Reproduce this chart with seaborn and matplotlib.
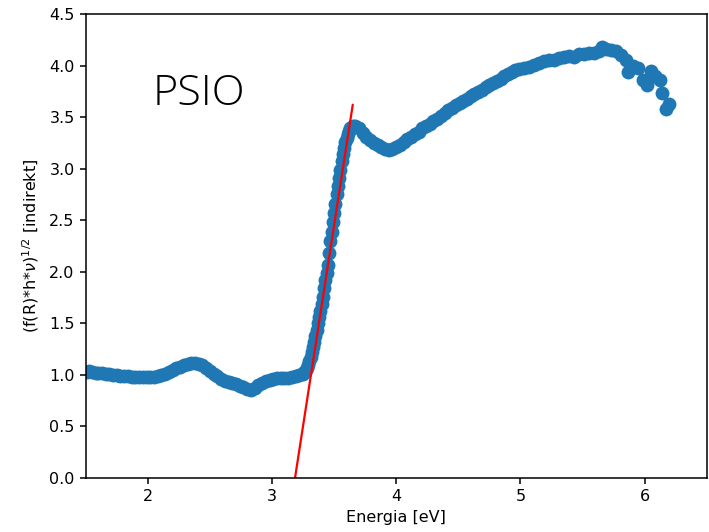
import matplotlib
matplotlib.use("Agg")
import matplotlib.pyplot as plt
import pandas as pd
import seaborn as sns

# Tauc plot data
energy = [
    1.51, 1.53, 1.55, 1.58, 1.60, 1.63, 1.66, 1.69, 1.72, 1.75, 1.78, 1.81,
    1.84, 1.87, 1.90, 1.93, 1.96, 1.99, 2.02, 2.05, 2.08, 2.11, 2.14, 2.17,
    2.20, 2.23, 2.26, 2.29, 2.32, 2.35, 2.38, 2.41, 2.44, 2.47, 2.50, 2.53,
    2.56, 2.59, 2.62, 2.65, 2.68, 2.71, 2.74, 2.77, 2.80, 2.83, 2.86, 2.89,
    2.92, 2.95, 2.98, 3.01, 3.04, 3.07, 3.10, 3.13, 3.16, 3.19, 3.22, 3.25,
    3.26, 3.27, 3.28, 3.29, 3.30, 3.31, 3.32, 3.33, 3.34, 3.35, 3.36, 3.37,
    3.38, 3.39, 3.40, 3.41, 3.42, 3.43, 3.44, 3.45, 3.46, 3.47, 3.48, 3.49,
    3.50, 3.51, 3.52, 3.53, 3.54, 3.55, 3.56, 3.57, 3.58, 3.59, 3.60, 3.61,
    3.62, 3.63, 3.64, 3.65,
    3.67, 3.70, 3.73, 3.76, 3.79, 3.82, 3.85, 3.88, 3.91, 3.94, 3.97, 4.00,
    4.03, 4.06, 4.09, 4.12, 4.15, 4.18, 4.21, 4.24, 4.27, 4.30, 4.33, 4.36,
    4.39, 4.42, 4.45, 4.48, 4.51, 4.54, 4.57, 4.60, 4.63, 4.66, 4.69, 4.72,
    4.75, 4.78, 4.81, 4.84, 4.87, 4.90, 4.93, 4.96, 4.99, 5.03, 5.07, 5.11,
    5.15, 5.19, 5.23, 5.27, 5.31, 5.35, 5.39, 5.43, 5.47, 5.51, 5.55, 5.59,
    5.63, 5.66, 5.69, 5.73, 5.77, 5.81, 5.85, 5.87, 5.91, 5.95, 5.99, 6.02,
    6.05, 6.08, 6.12, 6.14, 6.17, 6.20,
]
tauc = [
    1.03, 1.035, 1.03, 1.02, 1.02, 1.015, 1.01, 1.005, 1.00, 0.995, 0.99, 0.99,
    0.985, 0.98, 0.98, 0.975, 0.975, 0.975, 0.98, 0.98, 0.985, 0.995, 1.01, 1.03,
    1.05, 1.065, 1.08, 1.095, 1.11, 1.115, 1.115, 1.11, 1.095, 1.07, 1.04, 1.01,
    0.985, 0.96, 0.945, 0.935, 0.925, 0.91, 0.895, 0.88, 0.865, 0.855, 0.87, 0.905,
    0.925, 0.94, 0.955, 0.96, 0.965, 0.97, 0.97, 0.97, 0.975, 0.985, 0.995, 1.01,
    1.03, 1.05, 1.07, 1.10, 1.13, 1.17, 1.22, 1.27, 1.32, 1.38, 1.44, 1.50,
    1.56, 1.62, 1.69, 1.76, 1.84, 1.92, 1.99, 2.07, 2.18, 2.30, 2.39, 2.48,
    2.57, 2.66, 2.75, 2.83, 2.91, 2.99, 3.07, 3.14, 3.20, 3.26, 3.30, 3.34,
    3.37, 3.39, 3.40, 3.41,
    3.41, 3.39, 3.35, 3.31, 3.28, 3.25, 3.23, 3.21, 3.19, 3.18, 3.19, 3.21,
    3.23, 3.26, 3.29, 3.31, 3.34, 3.36, 3.39, 3.41, 3.43, 3.46, 3.48, 3.51,
    3.54, 3.57, 3.59, 3.62, 3.64, 3.66, 3.68, 3.70, 3.72, 3.74, 3.76, 3.79,
    3.81, 3.83, 3.85, 3.87, 3.90, 3.92, 3.94, 3.96, 3.97, 3.98, 3.99, 4.01,
    4.02, 4.04, 4.05, 4.05, 4.07, 4.08, 4.09, 4.08, 4.11, 4.11, 4.12, 4.12,
    4.14, 4.18, 4.16, 4.15, 4.14, 4.10, 4.05, 3.94, 4.00, 3.98, 3.86, 3.81,
    3.95, 3.90, 3.86, 3.73, 3.58, 3.63,
]

# linear fit of the absorption edge
fit_x = [3.185, 3.65]
fit_y = [0.0, 3.62]

df = pd.DataFrame({"energy": energy, "tauc": tauc})

sns.set_style("ticks")
plt.rcParams["font.family"] = ["DejaVu Sans"]
plt.rcParams["font.size"] = 11.5
for key in ["text.color", "axes.labelcolor", "xtick.color", "ytick.color"]:
    plt.rcParams[key] = "black"

fig = plt.figure(figsize=(7.09, 5.32), dpi=100)
ax = fig.add_axes([0.1209, 0.1015, 0.8759, 0.8722])

sns.scatterplot(data=df, x="energy", y="tauc", ax=ax, s=100, color="#1f77b4",
                linewidth=0, legend=False)
sns.lineplot(x=fit_x, y=fit_y, ax=ax, color="red", linewidth=1.6)

ax.set_xlim(1.5, 6.5)
ax.set_ylim(0, 4.5)
ax.set_xticks([2, 3, 4, 5, 6])
ax.set_yticks([0, 0.5, 1.0, 1.5, 2.0, 2.5, 3.0, 3.5, 4.0, 4.5])
ax.tick_params(labelsize=11.5, length=4.5, width=1.1, color="black")
for sp in ax.spines.values():
    sp.set_color("black")
    sp.set_linewidth(1.1)

ax.set_xlabel("Energia [eV]", fontsize=11.5, labelpad=4)
ax.set_ylabel(r"(f(R)*h*$\nu$)$^{1/2}$ [indirekt]", fontsize=11.5, labelpad=6)

ax.text(2.04, 3.62, "PSIO", fontsize=31, fontweight="light",
        family=["Open Sans", "DejaVu Sans"], va="baseline", ha="left",
        color="black")

fig.savefig("out.png", dpi=100)
